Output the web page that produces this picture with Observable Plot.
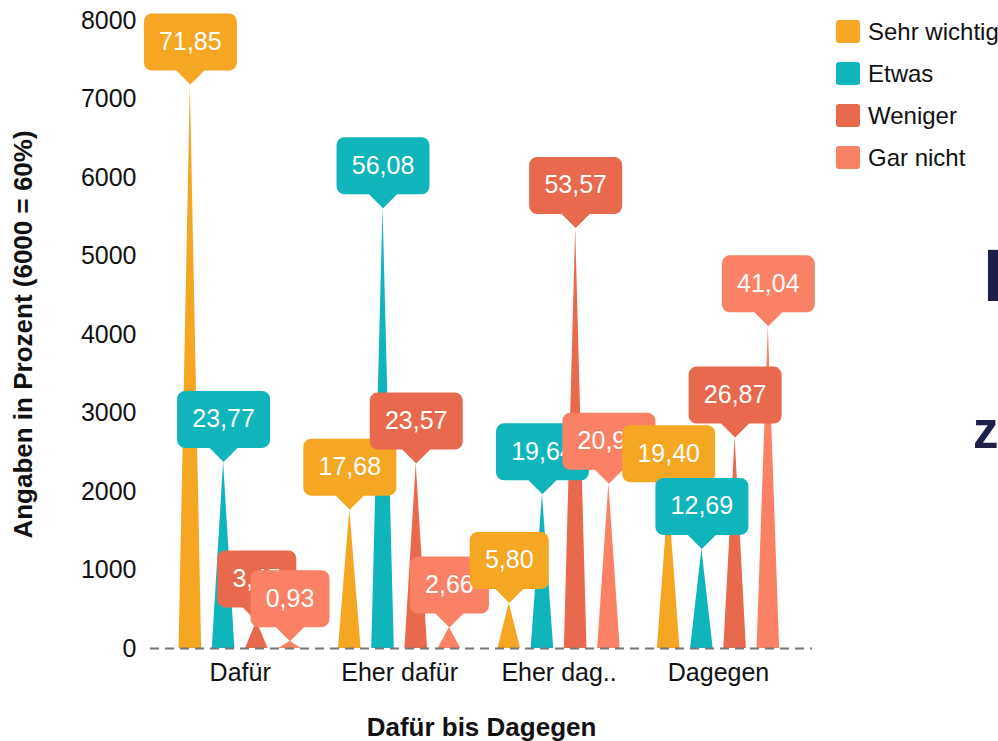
<!DOCTYPE html>
<html>
<head>
<meta charset="utf-8">
<script src="https://cdn.jsdelivr.net/npm/d3@7"></script>
<script src="https://cdn.jsdelivr.net/npm/@observablehq/plot@0.6"></script>
<style>
  html, body { margin: 0; padding: 0; background: #fff; overflow: hidden; }
  #wrap { position: relative; width: 998px; height: 741px; overflow: hidden; font-family: "Liberation Sans", Arial, sans-serif; }
  #legend { position: absolute; left: 836px; top: 20px; }
  .row { display: flex; align-items: center; height: 23px; margin-bottom: 19px; font-size: 24px; color: #111; white-space: nowrap; }
  .sw { width: 24px; height: 23px; border-radius: 3px; margin-right: 8px; flex: none; }
  .navy { position: absolute; color: #1c1f4a; font-weight: bold; font-family: "Liberation Sans", Arial, sans-serif; line-height: 1; }
</style>
</head>
<body>
<div id="wrap">
  <div id="chart"></div>
  <div id="legend"></div>
  <span class="navy" style="left:983px; top:239px; font-size:74px;">I</span>
  <span class="navy" style="left:973px; top:405px; font-size:51px;">z</span>
</div>
<script>
// ---- data ----
const groups = ["Dafür", "Eher dafür", "Eher dag..", "Dagegen"];
const seriesNames = ["Sehr wichtig", "Etwas", "Weniger", "Gar nicht"];
const sehrWichtig = [71.85, 17.68, 5.80, 19.40];
const etwas = [23.77, 56.08, 19.64, 12.69];
const weniger = [3.45, 23.57, 53.57, 26.87];
const garNicht = [0.93, 2.66, 20.99, 41.04];
const colors = ["#F5A623", "#10B5BC", "#E8694D", "#FB8166"];
const yTicks = [0, 1000, 2000, 3000, 4000, 5000, 6000, 7000, 8000];
const yTitle = "Angaben in Prozent (6000 = 60%)";
const xTitle = "Dafür bis Dagegen";

// ---- layout helpers ----
const seriesValues = [sehrWichtig, etwas, weniger, garNicht];
const groupStep = 4.8;      // in series-slot units
const halfBase = 0.34;      // half base width of a spike, in slot units

const bars = [];
groups.forEach((g, gi) => {
  seriesNames.forEach((s, si) => {
    const pct = seriesValues[si][gi];
    bars.push({
      id: gi * 4 + si,
      group: g,
      series: s,
      pos: gi * groupStep + si,
      value: pct * 100,
      label: pct.toFixed(2).replace(".", ",")
    });
  });
});

const tri = bars.flatMap(d => [
  {id: d.id, series: d.series, x: d.pos - halfBase, y: 0},
  {id: d.id, series: d.series, x: d.pos, y: d.value},
  {id: d.id, series: d.series, x: d.pos + halfBase, y: 0}
]);

const groupCenters = groups.map((g, gi) => gi * groupStep + 1.5);

function callout(w) {
  const h = 57, r = 8, ph = 14, pw = 14;
  const L = -w / 2, R = w / 2, B = -ph, T = -ph - h;
  return {
    draw(ctx) {
      ctx.moveTo(0, 0);
      ctx.lineTo(-pw, B);
      ctx.lineTo(L + r, B);
      ctx.arcTo(L, B, L, B - r, r);
      ctx.lineTo(L, T + r);
      ctx.arcTo(L, T, L + r, T, r);
      ctx.lineTo(R - r, T);
      ctx.arcTo(R, T, R, T + r, r);
      ctx.lineTo(R, B - r);
      ctx.arcTo(R, B, R - r, B, r);
      ctx.lineTo(pw, B);
      ctx.closePath();
    }
  };
}
const sym5 = callout(93);
const sym4 = callout(79);

const labelMarks = bars.flatMap(d => [
  Plot.dot([d], {x: "pos", y: "value", fill: "series", symbol: d.label.length > 4 ? sym5 : sym4, r: 5}),
  Plot.text([d], {x: "pos", y: "value", text: "label", dy: -42.5, fill: "white", fontSize: 25, textAnchor: "middle", lineAnchor: "middle"})
]);

const chart = Plot.plot({
  width: 998,
  height: 741,
  marginLeft: 150,
  marginRight: 186,
  marginTop: 20,
  marginBottom: 93,
  style: {font: "25px 'Liberation Sans', Arial, sans-serif", color: "#111", background: "white"},
  x: {
    domain: [-1.2, 18.73],
    ticks: groupCenters,
    tickFormat: v => groups[Math.round((v - 1.5) / groupStep)],
    tickSize: 0,
    tickPadding: 15,
    label: null
  },
  y: {
    domain: [0, 8000],
    ticks: yTicks,
    tickFormat: d => String(d),
    tickSize: 0,
    tickPadding: 14,
    label: null
  },
  color: {domain: seriesNames, range: colors},
  marks: [
    Plot.area(tri, {x1: "x", y1: 0, y2: "y", z: "id", fill: "series", curve: "linear"}),
    Plot.ruleY([0], {stroke: "#777", strokeWidth: 2, strokeDasharray: "9,6"}),
    ...labelMarks,
    Plot.text([yTitle], {frameAnchor: "left", textAnchor: "middle", lineAnchor: "middle", rotate: -90, dx: -127, fontSize: 26, fontWeight: "bold", fill: "#111", text: d => d}),
    Plot.text([xTitle], {frameAnchor: "bottom", textAnchor: "middle", lineAnchor: "middle", dy: 79, fontSize: 26, fontWeight: "bold", fill: "#111", text: d => d})
  ]
});
document.getElementById("chart").appendChild(chart);

const legend = document.getElementById("legend");
seriesNames.forEach((s, i) => {
  const row = document.createElement("div");
  row.className = "row";
  const sw = document.createElement("span");
  sw.className = "sw";
  sw.style.background = colors[i];
  const t = document.createElement("span");
  t.textContent = s;
  row.appendChild(sw);
  row.appendChild(t);
  legend.appendChild(row);
});
</script>
</body>
</html>
